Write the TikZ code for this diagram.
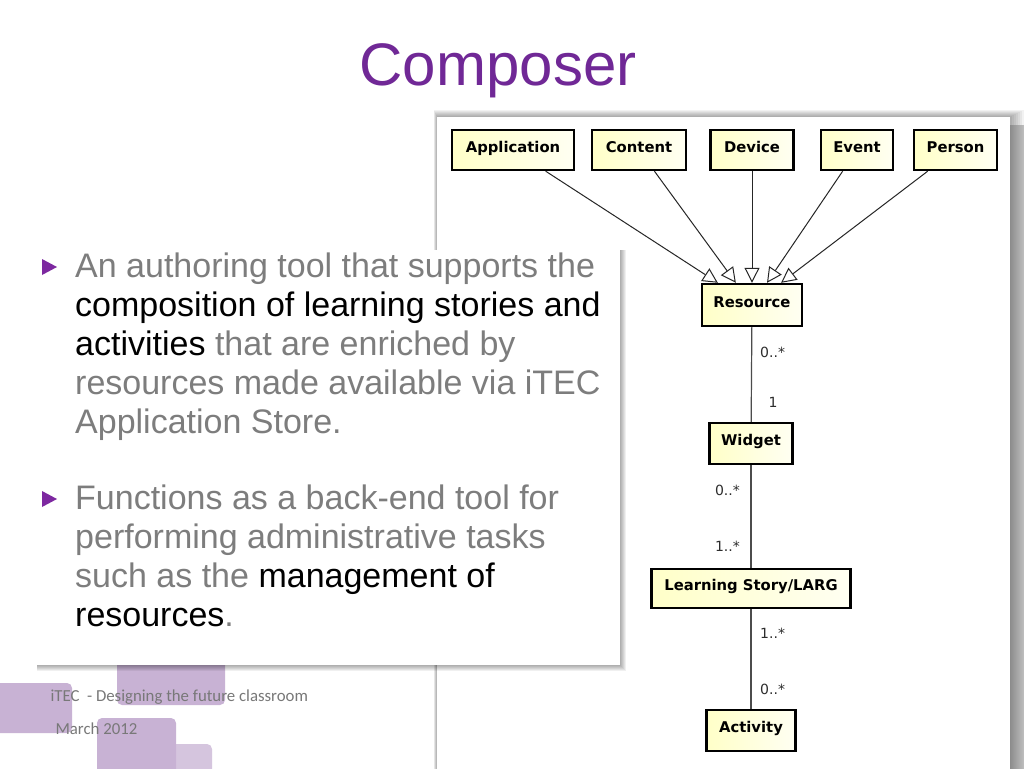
\documentclass[tikz,border=0pt]{standalone}
\usepackage{fontspec}
\setmainfont{Liberation Sans}
\newfontfamily\umlfont{DejaVu Sans}
\newfontfamily\footfont{Carlito}
\usetikzlibrary{positioning,arrows.meta}
\definecolor{titlepurple}{RGB}{112,40,150}
\definecolor{bulletpurple}{RGB}{125,40,160}
\definecolor{bodygray}{RGB}{125,125,125}
\definecolor{decopurple}{RGB}{200,178,212}
\definecolor{boxyellow}{RGB}{255,255,200}
\definecolor{boxlight}{RGB}{255,255,242}
\definecolor{labelgray}{RGB}{45,45,45}
\definecolor{footgray}{RGB}{120,120,120}

\tikzset{
  umlbox/.style={draw=black, line width=2.4pt, left color=boxyellow,
    right color=boxlight, minimum height=40pt, inner sep=0pt,
    text height=11pt, text depth=7pt,
    font=\umlfont\bfseries\fontsize{14.8}{17}\selectfont},
  generalize/.style={draw=black!85, line width=1pt,
    -{Triangle[length=15pt,width=15pt,fill=white,line width=1pt]}},
  assoc/.style={draw=black!70, line width=1.2pt},
  multlabel/.style={text=labelgray, inner sep=0pt,
    font=\umlfont\fontsize{14}{16}\selectfont},
  bullettext/.style={text=bodygray, align=left, inner sep=0pt,
    font=\fontsize{34}{39}\selectfont},
  decorect/.style={fill=decopurple, rounded corners=5pt},
  panelshadow/.style={fill=black, opacity=0.08}
}

\begin{document}
\begin{tikzpicture}[x=1pt,y=-1pt]
  \useasboundingbox (0,0) rectangle (1024,768);
  \fill[white] (0,0) rectangle (1024,768);

  % purple squares bottom left
  \fill[decorect] (-10,683) rectangle (72,733);
  \fill[decorect] (117,640) rectangle (225,705);
  \fill[decorect] (97,718) rectangle (176,780);
  \fill[decorect, fill opacity=0.75] (152,744) rectangle (212,780);

  % diagram panel
  \foreach \s in {2,4,6,8,10,12,14}
    \fill[panelshadow, opacity=0.05] (437-\s/4,117-\s/2) rectangle (1010+\s,780);
  \fill[left color=black!45, right color=black!25] (1010,125) rectangle (1024,780);
  \fill[white] (437,117) rectangle (1010,780);

  % title
  \node[text=titlepurple, font=\fontsize{60}{60}\selectfont, anchor=base]
    (title) at (498,85) {Composer};

  % top classes
  \node[umlbox, minimum width=122pt] (application) at (513,150) {Application};
  \node[umlbox, minimum width=94pt] (content) at (639,150) {Content};
  \node[umlbox, minimum width=83pt] (device) at (752,150) {Device};
  \node[umlbox, minimum width=72pt] (event) at (857,150) {Event};
  \node[umlbox, minimum width=83pt] (person) at (955.5,150) {Person};

  % chain of classes
  \node[umlbox, minimum width=100pt, minimum height=42pt] (resource) at (752,305) {Resource};
  \node[umlbox, minimum width=83pt, minimum height=41pt] (widget) at (751,443.5) {Widget};
  \node[umlbox, minimum width=199pt, minimum height=39pt] (larg) at (751,588.5) {Learning Story/LARG};
  \node[umlbox, minimum width=89pt, minimum height=41pt] (activity) at (751,730.5) {Activity};

  % generalizations
  \foreach \src in {application,content,device,event,person}
    \draw[generalize] (\src) -- (resource);

  % associations
  \draw[assoc] (resource) -- (widget);
  \draw[assoc] (widget) -- (larg);
  \draw[assoc] (larg) -- (activity);

  % multiplicities
  \node[multlabel, anchor=west] (mresource) at (760,352) {0..*};
  \node[multlabel] (mwidgettop) at (773,402) {1};
  \node[multlabel, anchor=east] (mwidgetbottom) at (740,490) {0..*};
  \node[multlabel, anchor=east] (mlargtop) at (740,546) {1..*};
  \node[multlabel, anchor=west] (mlargbottom) at (760,633) {1..*};
  \node[multlabel, anchor=west] (mactivity) at (760,689) {0..*};

  % text panel
  \foreach \s in {1,2,3,4,5,6}
    \fill[panelshadow, opacity=0.06] (37,250) rectangle (620+\s,665+\s);
  \fill[white] (37,250) rectangle (620,665);

  \fill[bulletpurple] (42,259) -- (57,267) -- (42,275) -- cycle;
  \node[bullettext, anchor=base west] (bulletone) at (75,433.5)
    {An authoring tool that supports the\\
     \textcolor{black}{composition of learning stories and}\\
     \textcolor{black}{activities} that are enriched by\\
     resources made available via iTEC\\
     Application Store.};

  \fill[bulletpurple] (42,491) -- (57,499) -- (42,507) -- cycle;
  \node[bullettext, anchor=base west] (bullettwo) at (75,626.5)
    {Functions as a back-end tool for\\
     performing administrative tasks\\
     such as the \textcolor{black}{management of}\\
     \textcolor{black}{resources}.};

  % footer
  \node[text=footgray, font=\footfont\fontsize{16.8}{19}\selectfont, anchor=west]
    (footer) at (47,697) {iTEC\ \ - Designing the future classroom};
  \node[text=footgray, font=\footfont\fontsize{16.8}{19}\selectfont, anchor=west]
    (date) at (52,729) {March 2012};
\end{tikzpicture}
\end{document}
